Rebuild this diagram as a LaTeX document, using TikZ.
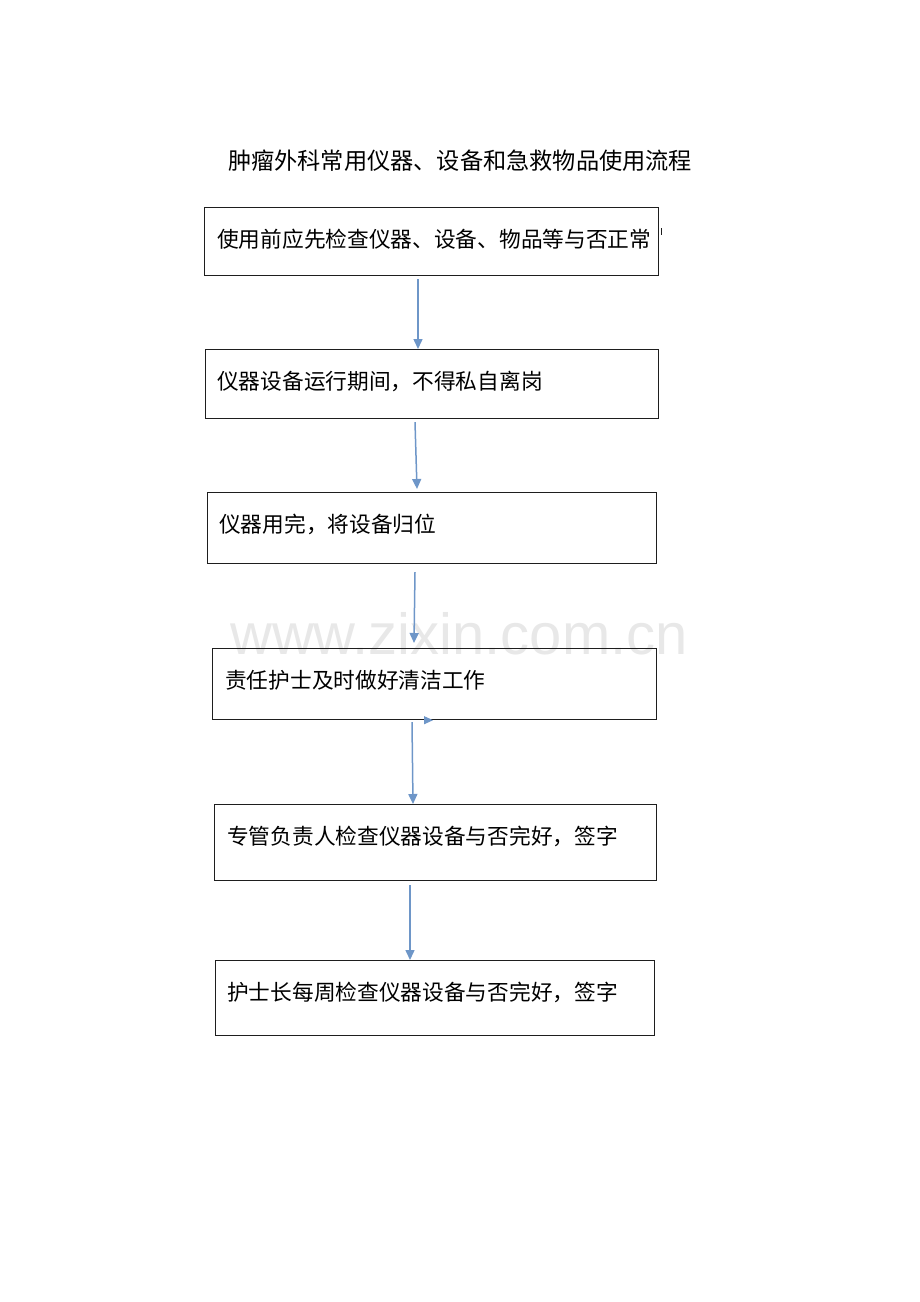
\documentclass[tikz,border=0pt]{standalone}
\usepackage{fontspec}
\setmainfont{Liberation Sans}
\newfontfamily\cjk{Noto Sans CJK SC}
\usetikzlibrary{arrows.meta}
\definecolor{arrowblue}{RGB}{110,150,200}
\definecolor{wmgray}{RGB}{232,232,232}
\definecolor{boxline}{RGB}{30,30,30}
\tikzset{
  box/.style={draw=boxline, line width=1.2pt, anchor=north west, inner sep=0pt},
  boxtext/.style={anchor=west, inner sep=0pt, font=\cjk\fontsize{21.7pt}{24pt}\selectfont},
  flow/.style={draw=arrowblue, line width=1.5pt, -{Triangle[length=10pt,width=9pt]}},
}
\begin{document}
\begin{tikzpicture}[x=1pt,y=-1pt]
\useasboundingbox (0,0) rectangle (920,1302);
% watermark
\node[anchor=center, text=wmgray, font=\fontsize{58pt}{60pt}\selectfont, inner sep=0pt] (wm) at (459,634) {www.zixin.com.cn};
% title
\node[font=\cjk\fontsize{23.2pt}{26pt}\selectfont, inner sep=0pt] (title) at (460,161) {肿瘤外科常用仪器、设备和急救物品使用流程};
% boxes
\node[box, minimum width=454pt, minimum height=68pt] (b1) at (204,207) {};
\node[box, minimum width=453pt, minimum height=69pt] (b2) at (205,349) {};
\node[box, minimum width=449pt, minimum height=71pt] (b3) at (207,492) {};
\node[box, minimum width=444pt, minimum height=71pt] (b4) at (212,648) {};
\node[box, minimum width=442pt, minimum height=76pt] (b5) at (214,804) {};
\node[box, minimum width=439pt, minimum height=75pt] (b6) at (215,960) {};
% texts
\node[boxtext] (t1) at (217,239) {使用前应先检查仪器、设备、物品等与否正常};
\node[boxtext] (t2) at (217,381) {仪器设备运行期间，不得私自离岗};
\node[boxtext] (t3) at (219,524) {仪器用完，将设备归位};
\node[boxtext] (t4) at (225,680) {责任护士及时做好清洁工作};
\node[boxtext] (t5) at (227,836) {专管负责人检查仪器设备与否完好，签字};
\node[boxtext] (t6) at (227,992) {护士长每周检查仪器设备与否完好，签字};
% stray tick after first box
\coordinate (tk) at ([xshift=2pt,yshift=-21pt]b1.north east);
\draw[boxline, line width=0.8pt] (tk) -- ++(0,7);
% connectors
\draw[flow] ([xshift=214pt,yshift=-3pt]b1.south west) -- ([xshift=213pt]b2.north west);
\draw[flow] ([xshift=210pt,yshift=-3pt]b2.south west) -- ([xshift=210pt,yshift=3pt]b3.north west);
\draw[flow] ([xshift=208pt,yshift=-8pt]b3.south west) -- ([xshift=202pt,yshift=5pt]b4.north west);
\draw[flow] ([xshift=200pt,yshift=-2pt]b4.south west) -- ([xshift=199pt]b5.north west);
\draw[flow] ([xshift=196pt,yshift=-4pt]b5.south west) -- ([xshift=195pt]b6.north west);
% small stray arrowhead on box 4 bottom edge
\coordinate (sa) at ([xshift=212pt]b4.south west);
\draw[arrowblue, line width=1pt, -{Triangle[length=9pt,width=8pt]}] (sa) -- ++(9,0);
\end{tikzpicture}
\end{document}
